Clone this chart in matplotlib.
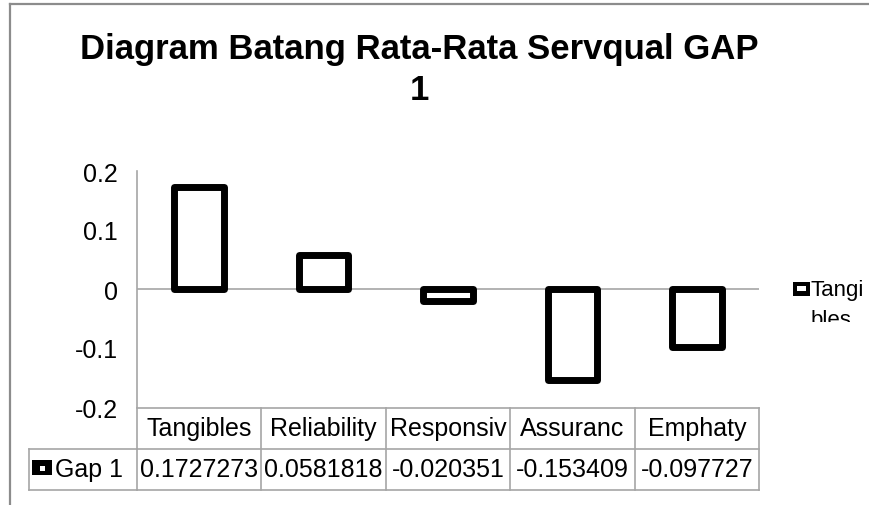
import matplotlib
matplotlib.use("Agg")
import matplotlib.pyplot as plt
from matplotlib.patches import Rectangle
from matplotlib.lines import Line2D
from matplotlib.transforms import blended_transform_factory, Bbox

plt.rcParams['font.family'] = ['Liberation Sans', 'DejaVu Sans']

title = "Diagram Batang Rata-Rata Servqual GAP\n1"
categories = ["Tangibles", "Reliability", "Responsiv", "Assuranc", "Emphaty"]
series_name = "Gap 1"
legend_label = "Tangi\nbles"
values = [0.1727273, 0.0581818, -0.020351, -0.153409, -0.097727]
yticks = [-0.2, -0.1, 0, 0.1, 0.2]
ytick_labels = ["-0.2", "-0.1", "0", "0.1", "0.2"]

W, H = 870, 506
fig = plt.figure(figsize=(W / 100, H / 100), dpi=100)
fig.patch.set_facecolor("white")

def fx(x):
    return x / W

def fy(y):
    return 1 - y / H

GRAY = "#a6a6a6"

# axes (plot area)
ax = fig.add_axes([fx(137), fy(408), fx(759) - fx(137), fy(172) - fy(408)])
ax.set_xlim(-0.5, len(categories) - 0.5)
ax.set_ylim(-0.2, 0.2)
for s in ["top", "right", "bottom"]:
    ax.spines[s].set_visible(False)
ax.spines["left"].set_color(GRAY)
ax.spines["left"].set_linewidth(1.2)
ax.set_xticks([])
ax.set_yticks(yticks)
ax.set_yticklabels(ytick_labels)
ax.tick_params(axis="y", length=0, pad=14, labelsize=18)
ax.axhline(0, color=GRAY, lw=1.2, zorder=1)

x = list(range(len(categories)))
ax.bar(x, values, width=0.4, color="white", edgecolor="black", linewidth=5,
       joinstyle="round", zorder=3, clip_on=False)

# data table
tr = blended_transform_factory(ax.transData, fig.transFigure)
y_top, y_mid, y_bot = fy(409), fy(450), fy(491)
n = len(categories)
for yy in (y_top, y_mid, y_bot):
    fig.add_artist(Line2D([-0.5, n - 0.5], [yy, yy], transform=tr, color=GRAY, lw=1.2))
for i in range(n + 1):
    fig.add_artist(Line2D([i - 0.5, i - 0.5], [y_top, y_bot], transform=tr, color=GRAY, lw=1.2))
fig.add_artist(Line2D([fx(29), fx(137)], [y_mid, y_mid], transform=fig.transFigure, color=GRAY, lw=1.2))
fig.add_artist(Line2D([fx(29), fx(137)], [y_bot, y_bot], transform=fig.transFigure, color=GRAY, lw=1.2))
fig.add_artist(Line2D([fx(29), fx(29)], [y_mid, y_bot], transform=fig.transFigure, color=GRAY, lw=1.2))

def fmt(v):
    return f"{v:.{7 - (1 if v < 0 else 0)}f}"

for i, (c, v) in enumerate(zip(categories, values)):
    fig.text(i, (y_top + y_mid) / 2, c, transform=tr, ha="center", va="center", fontsize=18)
    fig.text(i, (y_mid + y_bot) / 2, fmt(v), transform=tr, ha="center", va="center", fontsize=18)

def key(x0, y0, x1, y1, ix0, iy0, ix1, iy1):
    fig.add_artist(Rectangle((fx(x0), fy(y1)), fx(x1) - fx(x0), fy(y0) - fy(y1),
                             transform=fig.transFigure, facecolor="black", edgecolor="none"))
    fig.add_artist(Rectangle((fx(ix0), fy(iy1)), fx(ix1) - fx(ix0), fy(iy0) - fy(iy1),
                             transform=fig.transFigure, facecolor="white", edgecolor="none"))

# legend key in table
key(32, 461, 52, 476, 39.5, 466.5, 45, 472)
fig.text(fx(55), fy(470.5), series_name, ha="left", va="center", fontsize=18)

# legend on right
key(793, 283, 810, 297, 797, 287, 806, 292)
lt = fig.text(fx(811), fy(280), legend_label, ha="left", va="top", fontsize=16,
              linespacing=1.55)
lt.set_clip_box(Bbox([[0, H - 323], [W, H]]))
lt.set_clip_on(True)

# title (baseline of last line)
fig.text(fx(419), fy(100), title, ha="center", va="baseline", fontsize=25,
         fontweight="bold", linespacing=1.3)

# chart border
fig.add_artist(Line2D([fx(10.5), fx(10.5)], [0, fy(5)], transform=fig.transFigure, color="#8c8c8c", lw=1.6))
fig.add_artist(Line2D([fx(10.5), 1], [fy(5), fy(5)], transform=fig.transFigure, color="#8c8c8c", lw=1.6))

fig.savefig("out.png", dpi=100, facecolor="white")
